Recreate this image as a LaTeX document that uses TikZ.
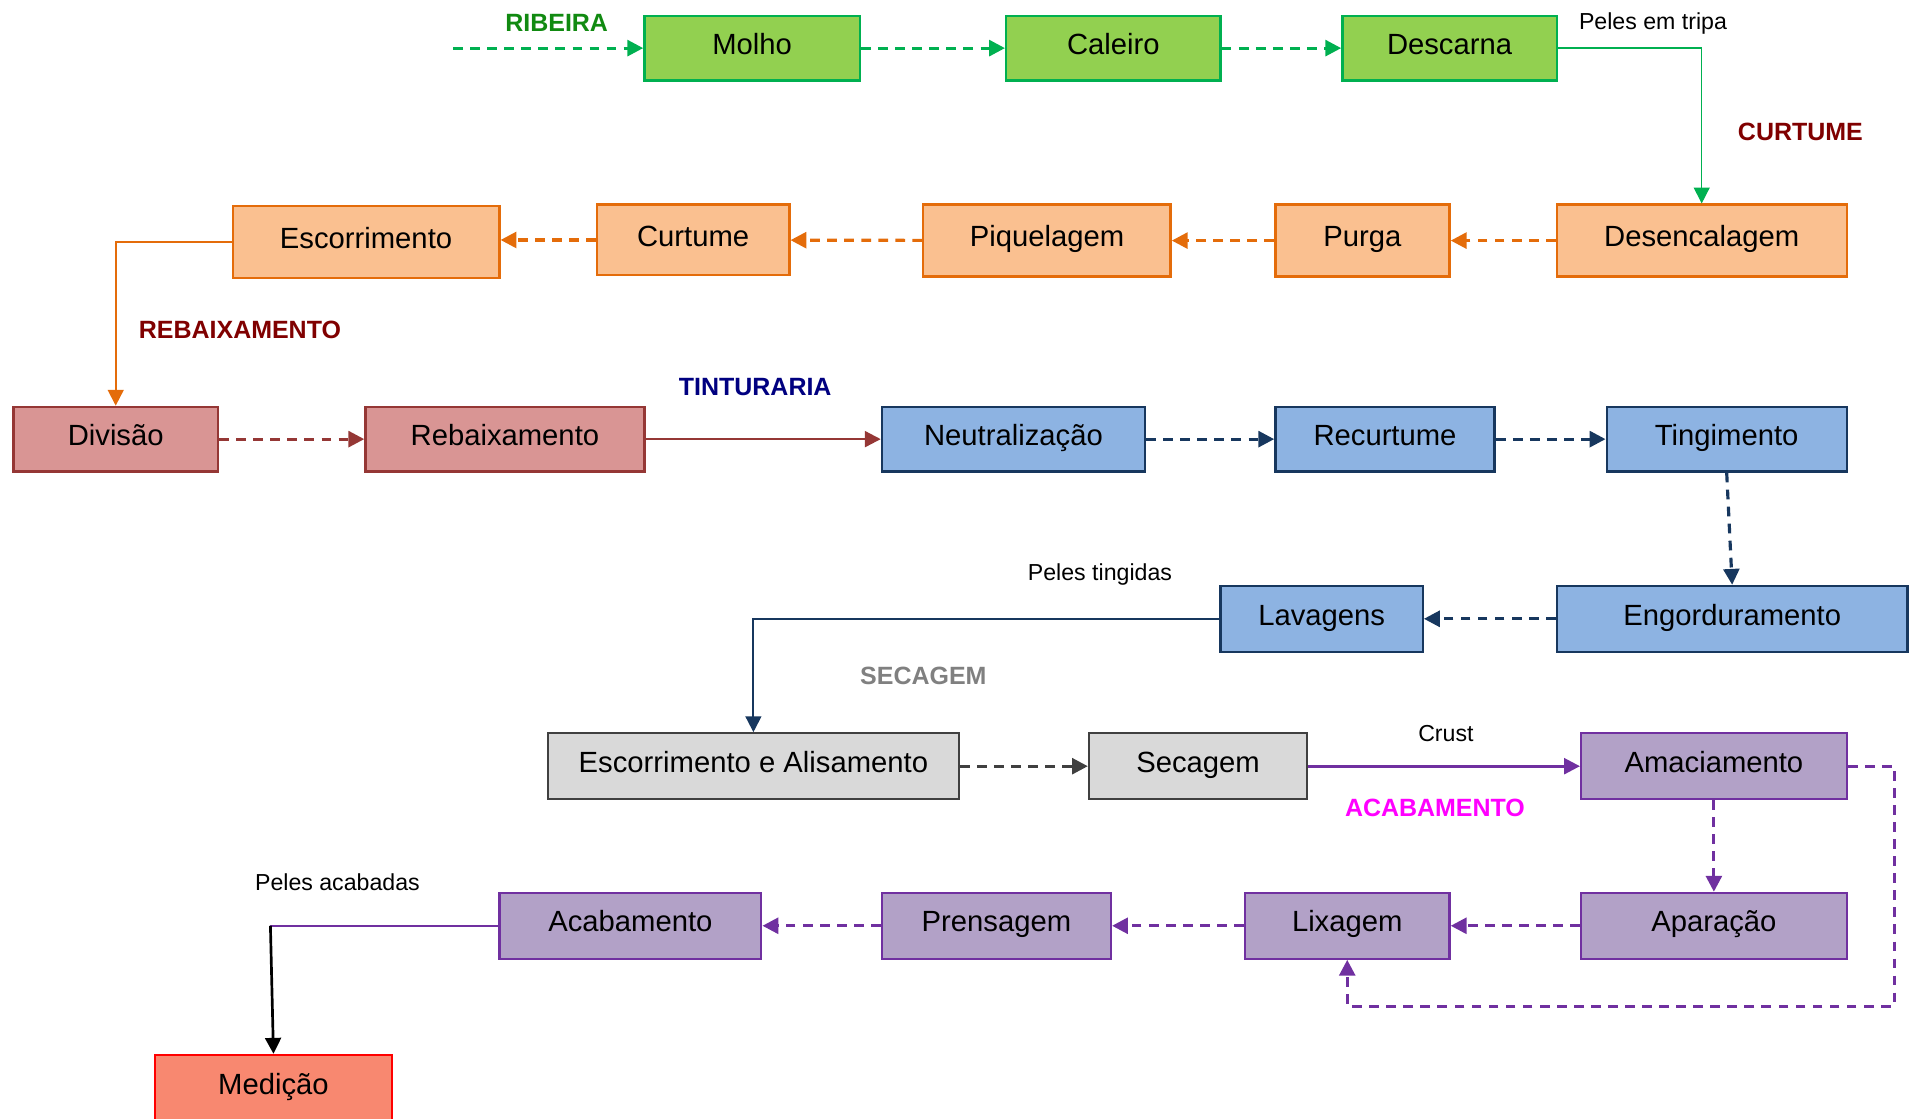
\documentclass[tikz,border=0pt]{standalone}
\usepackage{fontspec}
\setmainfont{Liberation Sans}
\usetikzlibrary{arrows.meta}
\definecolor{gfill}{HTML}{92D050}\definecolor{gline}{HTML}{00B050}
\definecolor{ofill}{HTML}{FAC090}\definecolor{oline}{HTML}{E46C0A}
\definecolor{rfill}{HTML}{D99594}\definecolor{rline}{HTML}{953735}
\definecolor{bfill}{HTML}{8DB3E2}\definecolor{bline}{HTML}{17375E}
\definecolor{yfill}{HTML}{D9D9D9}\definecolor{yline}{HTML}{404040}
\definecolor{pfill}{HTML}{B2A1C7}\definecolor{pline}{HTML}{7030A0}
\definecolor{mfill}{HTML}{F88870}\definecolor{mline}{HTML}{FF0000}
\definecolor{ribc}{HTML}{118A11}\definecolor{curc}{HTML}{800000}
\definecolor{tinc}{HTML}{000080}\definecolor{secc}{HTML}{808080}
\definecolor{acac}{HTML}{FF00FF}
\tikzset{
  box/.style={draw, rectangle, inner sep=0pt, line width=1.9pt,
    font=\fontsize{24}{28}\selectfont, text height=17.5pt, text depth=7.3pt},
  gbox/.style={box, fill=gfill, draw=gline},
  obox/.style={box, fill=ofill, draw=oline},
  rbox/.style={box, fill=rfill, draw=rline},
  bbox/.style={box, fill=bfill, draw=bline},
  ybox/.style={box, fill=yfill, draw=yline},
  pbox/.style={box, fill=pfill, draw=pline},
  mbox/.style={box, fill=mfill, draw=mline},
  tip/.style={-{Triangle[length=13pt,width=13pt]}},
  dsh/.style={tip, line width=2.6pt, dash pattern=on 8pt off 6pt},
  sol/.style={tip, line width=1.6pt},
  sect/.style={font=\fontsize{20.5}{24}\selectfont\bfseries},
  lbl/.style={font=\fontsize{19}{23}\selectfont},
}
\begin{document}
\begin{tikzpicture}[x=1pt,y=-1pt]
\useasboundingbox (0,0) rectangle (1568,918);
% row 1
\node[gbox, minimum width=177pt, minimum height=53pt] (molho) at (617.5,39.5) {Molho};
\node[gbox, minimum width=176pt, minimum height=53pt] (caleiro) at (914,39.5) {Caleiro};
\node[gbox, minimum width=176pt, minimum height=53pt] (descarna) at (1190,39.5) {Descarna};
% row 2
\node[obox, minimum width=219pt, minimum height=59pt] (escorr) at (300.5,198.5) {Escorrimento};
\node[obox, minimum width=158pt, minimum height=58pt] (curtume) at (569,197) {Curtume};
\node[obox, minimum width=203pt, minimum height=59pt] (piquel) at (859.5,197.5) {Piquelagem};
\node[obox, minimum width=143pt, minimum height=59pt] (purga) at (1118.5,197.5) {Purga};
\node[obox, minimum width=238pt, minimum height=59pt] (desenc) at (1397,197.5) {Desencalagem};
% row 3
\node[rbox, minimum width=168pt, minimum height=53pt] (divisao) at (95,360.5) {Divisão};
\node[rbox, minimum width=229pt, minimum height=53pt] (rebaix) at (414.5,360.5) {Rebaixamento};
\node[bbox, minimum width=216pt, minimum height=53pt] (neutral) at (832,360.5) {Neutralização};
\node[bbox, minimum width=180pt, minimum height=53pt] (recurt) at (1137,360.5) {Recurtume};
\node[bbox, minimum width=197pt, minimum height=53pt] (ting) at (1417.5,360.5) {Tingimento};
% row 4
\node[bbox, minimum width=166pt, minimum height=54pt] (lavag) at (1085,508) {Lavagens};
\node[bbox, minimum width=288pt, minimum height=54pt] (engord) at (1422,508) {Engorduramento};
% row 5
\node[ybox, minimum width=337pt, minimum height=54pt] (escal) at (618.5,629) {Escorrimento e Alisamento};
\node[ybox, minimum width=179pt, minimum height=54pt] (secag) at (983.5,629) {Secagem};
\node[pbox, minimum width=218pt, minimum height=54pt] (amac) at (1407,629) {Amaciamento};
% row 6
\node[pbox, minimum width=215pt, minimum height=54pt] (acab) at (517.5,760) {Acabamento};
\node[pbox, minimum width=188pt, minimum height=54pt] (prens) at (818,760) {Prensagem};
\node[pbox, minimum width=168pt, minimum height=54pt] (lixag) at (1106,760) {Lixagem};
\node[pbox, minimum width=218pt, minimum height=54pt] (apar) at (1407,760) {Aparação};
\node[mbox, minimum width=195pt, minimum height=54pt] (medicao) at (224.5,893) {Medição};
% section labels
\node[sect, text=ribc] (tribeira) at (457,19) {RIBEIRA};
\node[sect, text=curc] (tcurtume) at (1478,108) {CURTUME};
\node[sect, text=curc] (trebaix) at (197,271) {REBAIXAMENTO};
\node[sect, text=tinc] (ttint) at (620,318) {TINTURARIA};
\node[sect, text=secc] (tsecag) at (758,555) {SECAGEM};
\node[sect, text=acac] (tacab) at (1178,663) {ACABAMENTO};
% other labels
\node[lbl] (ltripa) at (1357,19) {Peles em tripa};
\node[lbl] (lting) at (903,472) {Peles tingidas};
\node[lbl] (lcrust) at (1187,602) {Crust};
\node[lbl] (lacab) at (277,724) {Peles acabadas};
% connectors
\coordinate (start) at (372,39.5);
\draw[dsh, draw=gline] (start) -- (molho.west);
\draw[dsh, draw=gline] (molho) -- (caleiro);
\draw[dsh, draw=gline] (caleiro) -- (descarna);
\draw[tip, line width=1.2pt, draw=gline] (descarna.east) -| (desenc.north);
\draw[dsh, draw=oline] (desenc) -- (purga);
\draw[dsh, draw=oline] (purga) -- (piquel);
\draw[dsh, draw=oline] (piquel) -- (curtume);
\draw[dsh, draw=oline] (curtume.west) -- (escorr.east |- curtume.west);
\draw[sol, draw=oline] (escorr.west) -| (divisao.north);
\draw[dsh, draw=rline] (divisao) -- (rebaix);
\draw[sol, line width=1.9pt, draw=rline] (rebaix) -- (neutral);
\draw[dsh, draw=bline] (neutral) -- (recurt);
\draw[dsh, draw=bline] (recurt) -- (ting);
\draw[dsh, draw=bline] (ting.south) -- (engord.north);
\draw[dsh, draw=bline] (engord) -- (lavag);
\draw[sol, draw=bline] (lavag.west) -| (escal.north);
\draw[dsh, draw=yline] (escal) -- (secag);
\draw[sol, line width=2.2pt, draw=pline] (secag) -- (amac);
\draw[dsh, draw=pline] (amac) -- (apar);
\draw[dsh, draw=pline] (apar) -- (lixag);
\draw[dsh, draw=pline] (lixag) -- (prens);
\draw[dsh, draw=pline] (prens) -- (acab);
\draw[dsh, draw=pline] (amac.east) -- (1555,629) -- (1555,826) -| (lixag.south);
\coordinate (bend) at (222,760);
\draw[line width=2pt, draw=pline] (acab.west) -- (bend);
\draw[tip, line width=2.2pt, draw=black] (bend) -- (medicao.north);
\end{tikzpicture}
\end{document}
